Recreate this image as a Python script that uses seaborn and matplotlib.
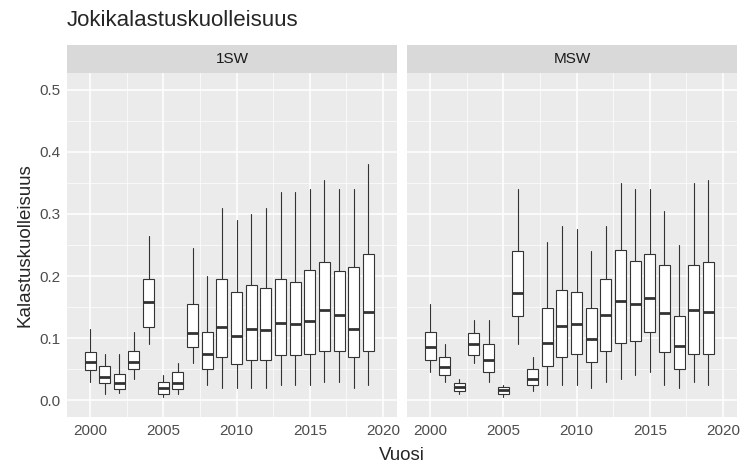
import matplotlib
matplotlib.use("Agg")
import matplotlib.pyplot as plt
import seaborn as sns

years = list(range(2000, 2020))
groups = ["1SW", "MSW"]
# per year: whisker low, q1, median, q3, whisker high
sw1_lo  = [0.030,0.010,0.012,0.035,0.090,0.005,0.010,0.060,0.025,0.020,0.020,0.020,0.020,0.025,0.025,0.025,0.030,0.030,0.020,0.025]
sw1_q1  = [0.048,0.028,0.018,0.050,0.118,0.010,0.018,0.085,0.050,0.070,0.058,0.065,0.065,0.073,0.073,0.075,0.080,0.080,0.070,0.080]
sw1_med = [0.062,0.038,0.027,0.062,0.158,0.020,0.028,0.108,0.075,0.118,0.103,0.115,0.113,0.125,0.122,0.128,0.145,0.137,0.115,0.142]
sw1_q3  = [0.077,0.055,0.042,0.080,0.195,0.030,0.045,0.155,0.110,0.195,0.175,0.185,0.180,0.195,0.190,0.210,0.222,0.208,0.215,0.235]
sw1_hi  = [0.115,0.075,0.075,0.110,0.265,0.040,0.060,0.245,0.200,0.310,0.290,0.300,0.310,0.335,0.335,0.340,0.355,0.340,0.340,0.380]
msw_lo  = [0.045,0.030,0.010,0.060,0.030,0.005,0.090,0.015,0.025,0.025,0.025,0.020,0.030,0.035,0.040,0.045,0.025,0.020,0.030,0.025]
msw_q1  = [0.065,0.040,0.015,0.073,0.045,0.010,0.135,0.025,0.055,0.070,0.075,0.062,0.080,0.092,0.095,0.110,0.078,0.050,0.075,0.075]
msw_med = [0.086,0.053,0.021,0.090,0.065,0.016,0.173,0.035,0.092,0.120,0.123,0.098,0.137,0.160,0.155,0.165,0.140,0.087,0.145,0.142]
msw_q3  = [0.110,0.070,0.028,0.108,0.090,0.022,0.240,0.050,0.148,0.178,0.175,0.148,0.195,0.242,0.225,0.235,0.218,0.135,0.218,0.222]
msw_hi  = [0.155,0.090,0.035,0.130,0.130,0.025,0.340,0.070,0.255,0.280,0.275,0.240,0.280,0.350,0.340,0.340,0.305,0.250,0.350,0.355]

data = {"1SW": (sw1_lo, sw1_q1, sw1_med, sw1_q3, sw1_hi),
        "MSW": (msw_lo, msw_q1, msw_med, msw_q3, msw_hi)}

sns.set_theme(style="darkgrid", rc={"axes.facecolor": "#EBEBEB", "grid.color": "white",
                                    "font.family": "Liberation Sans"})
fig = plt.figure(figsize=(7.45, 4.74), dpi=100)
W, H = 745, 474
panels = [(67, 397), (407, 737)]
top, bot, strip = 73, 417, 45
for (l, r), g in zip(panels, groups):
    ax = fig.add_axes([l / W, 1 - bot / H, (r - l) / W, (bot - top) / H])
    lo, q1, med, q3, hi = data[g]
    stats = [dict(whislo=a, q1=b, med=c, q3=d, whishi=e, fliers=[])
             for a, b, c, d, e in zip(lo, q1, med, q3, hi)]
    ax.bxp(stats, positions=years, widths=0.75, patch_artist=True, manage_ticks=False,
           boxprops=dict(facecolor="white", edgecolor="#333333", linewidth=0.8),
           medianprops=dict(color="#333333", linewidth=2),
           whiskerprops=dict(color="#333333", linewidth=0.8),
           capprops=dict(linewidth=0), showcaps=False)
    ax.set_xlim(1998.43, 2020.95)
    ax.set_ylim(-0.027, 0.527)
    ax.set_xticks([2000, 2005, 2010, 2015, 2020])
    ax.set_xticks([2002.5, 2007.5, 2012.5, 2017.5], minor=True)
    ax.set_yticks([0, 0.1, 0.2, 0.3, 0.4, 0.5])
    ax.set_yticks([0.05, 0.15, 0.25, 0.35, 0.45], minor=True)
    ax.grid(True, which="major", color="white", linewidth=1.1)
    ax.grid(True, which="minor", color="white", linewidth=0.5)
    ax.tick_params(which="both", length=3, color="#333333", labelsize=11, labelcolor="#4D4D4D", pad=2)
    ax.tick_params(which="minor", length=0)
    for s in ax.spines.values():
        s.set_visible(False)
    if l == 67:
        ax.set_yticklabels(["0.0", "0.1", "0.2", "0.3", "0.4", "0.5"])
        ax.set_ylabel("Kalastuskuolleisuus", fontsize=13.5)
    else:
        ax.set_yticklabels([])
        ax.tick_params(axis="y", length=0)
    sax = fig.add_axes([l / W, 1 - top / H, (r - l) / W, (top - strip) / H])
    sax.set_facecolor("#D9D9D9")
    sax.set_xticks([]); sax.set_yticks([])
    for s in sax.spines.values():
        s.set_visible(False)
    sax.text(0.5, 0.5, g, ha="center", va="center", fontsize=11, color="#1A1A1A", transform=sax.transAxes)

fig.text(402 / W, 1 - 455 / H, "Vuosi", ha="center", va="center", fontsize=13.5)
fig.text(67 / W, 1 - 20 / H, "Jokikalastuskuolleisuus", ha="left", va="center", fontsize=16)
fig.savefig("out.png", dpi=100)
